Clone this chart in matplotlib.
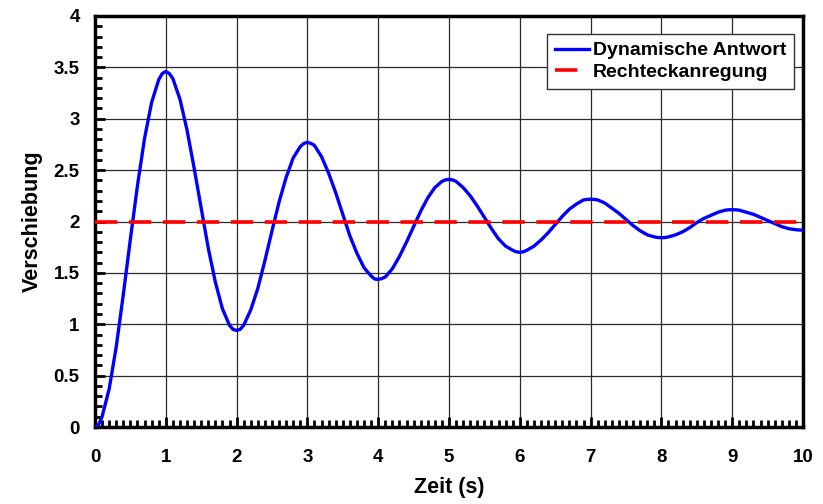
import matplotlib
matplotlib.use("Agg")
import matplotlib.pyplot as plt
from matplotlib.ticker import MultipleLocator

# time samples (s) (denser near peaks and troughs)
t = [
    0.0, 0.05, 0.1, 0.2, 0.3, 0.4, 0.5, 0.6, 0.7, 0.8, 0.9, 0.95,
    1.0, 1.05, 1.1, 1.2, 1.3, 1.4, 1.5, 1.6, 1.7, 1.8, 1.9, 1.95,
    2.0, 2.05, 2.1, 2.2, 2.3, 2.4, 2.5, 2.6, 2.7, 2.8, 2.9, 2.95,
    3.0, 3.05, 3.1, 3.2, 3.3, 3.4, 3.5, 3.6, 3.7, 3.8, 3.9, 3.95,
    4.0, 4.05, 4.1, 4.2, 4.3, 4.4, 4.5, 4.6, 4.7, 4.8, 4.9, 4.95,
    5.0, 5.05, 5.1, 5.2, 5.3, 5.4, 5.5, 5.6, 5.7, 5.8, 5.9, 5.95,
    6.0, 6.05, 6.1, 6.2, 6.3, 6.4, 6.5, 6.6, 6.7, 6.8, 6.9, 6.95,
    7.0, 7.05, 7.1, 7.2, 7.3, 7.4, 7.5, 7.6, 7.7, 7.8, 7.9, 7.95,
    8.0, 8.05, 8.1, 8.2, 8.3, 8.4, 8.5, 8.6, 8.7, 8.8, 8.9, 8.95,
    9.0, 9.05, 9.1, 9.2, 9.3, 9.4, 9.5, 9.6, 9.7, 9.8, 9.9, 9.95,
    10.0,
]
# displacement
response = [
    0.00, 0.02, 0.10, 0.37, 0.78, 1.29, 1.83, 2.35, 2.81, 3.16, 3.38, 3.44,
    3.46, 3.44, 3.39, 3.19, 2.89, 2.52, 2.13, 1.74, 1.41, 1.15, 0.99, 0.95,
    0.94, 0.95, 0.99, 1.14, 1.35, 1.62, 1.91, 2.19, 2.43, 2.62, 2.73, 2.76,
    2.77, 2.76, 2.74, 2.63, 2.47, 2.28, 2.07, 1.86, 1.69, 1.55, 1.47, 1.44,
    1.437, 1.444, 1.46, 1.54, 1.66, 1.80, 1.95, 2.10, 2.23, 2.33, 2.39, 2.405,
    2.41, 2.405, 2.39, 2.33, 2.25, 2.15, 2.04, 1.93, 1.83, 1.76, 1.72, 1.705,
    1.70, 1.705, 1.72, 1.76, 1.82, 1.89, 1.97, 2.05, 2.12, 2.17, 2.21, 2.215,
    2.217, 2.215, 2.21, 2.18, 2.13, 2.08, 2.02, 1.96, 1.91, 1.87, 1.85, 1.844,
    1.842, 1.844, 1.85, 1.87, 1.90, 1.94, 1.99, 2.03, 2.06, 2.09, 2.11, 2.114,
    2.115, 2.114, 2.11, 2.09, 2.07, 2.04, 2.01, 1.98, 1.95, 1.93, 1.92, 1.917,
    1.916,
]
step_t = [0, 10]
step_level = [2, 2]

x_ticks = list(range(0, 11))
y_ticks = [0, 0.5, 1, 1.5, 2, 2.5, 3, 3.5, 4]
y_tick_labels = ["0", "0.5", "1", "1.5", "2", "2.5", "3", "3.5", "4"]

plt.rcParams['font.family'] = ['Liberation Sans', 'DejaVu Sans']
plt.rcParams['font.weight'] = 'bold'

fig = plt.figure(figsize=(8.23, 5.04), dpi=100)
ax = fig.add_axes([95/823, 1 - 427/504, (803-95)/823, (427-16)/504])

ax.grid(True, which='major', color='#2a2a2a', linewidth=0.9, zorder=0)
ax.plot(t, response, color='#0000ff', linewidth=2.4, label='Dynamische Antwort',
        zorder=3, solid_joinstyle='round')
ax.plot(step_t, step_level, color='#ff0000', linewidth=2.6, dashes=(6.2, 3.2),
        label='Rechteckanregung', zorder=4)

ax.set_xlim(0, 10)
ax.set_ylim(0, 4)
ax.set_xticks(x_ticks)
ax.set_yticks(y_ticks)
ax.set_yticklabels(y_tick_labels)
ax.xaxis.set_minor_locator(MultipleLocator(0.1))
ax.yaxis.set_minor_locator(MultipleLocator(0.1))
ax.tick_params(which='major', direction='in', length=7, width=2, labelsize=13.5)
ax.tick_params(which='minor', direction='in', length=5, width=2)
ax.tick_params(axis='x', which='major', pad=16)
ax.tick_params(axis='y', which='major', pad=11)
for lab in ax.get_xticklabels() + ax.get_yticklabels():
    lab.set_fontweight('bold')
for s in ax.spines.values():
    s.set_linewidth(2.5)

ax.set_xlabel('Zeit (s)', fontsize=15.5, fontweight='bold', labelpad=8)
ax.set_ylabel('Verschiebung', fontsize=15.5, fontweight='bold', labelpad=8)

leg = ax.legend(loc='upper right', bbox_to_anchor=((794-95)/708, (427-34)/411),
                borderaxespad=0, fontsize=14,
                frameon=True, fancybox=False, edgecolor='#333333', framealpha=1,
                handlelength=1.75, borderpad=0.4, labelspacing=0.22, handletextpad=0.2)
leg.get_frame().set_linewidth(1.0)
for txt in leg.get_texts():
    txt.set_fontweight('bold')

fig.savefig('out.png', dpi=100)
